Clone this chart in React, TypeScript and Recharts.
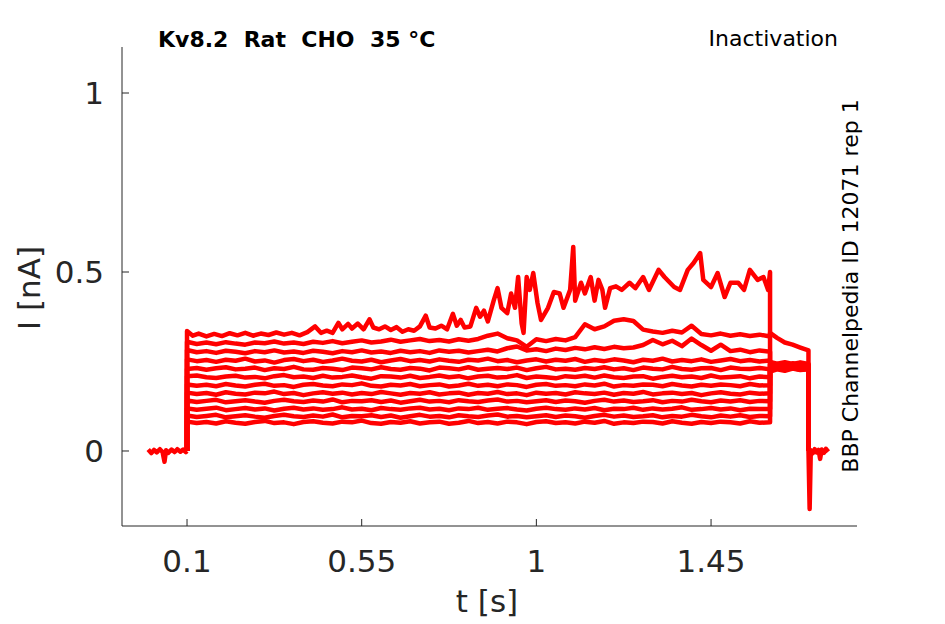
import { LineChart, Line, XAxis, YAxis } from 'recharts';

// Prepulse time grid (s) shared by traces 2-12
const PRE_T = [
  0.1, 0.125, 0.15, 0.175, 0.2, 0.225, 0.25, 0.275, 0.3, 0.325,
  0.35, 0.375, 0.4, 0.425, 0.45, 0.475, 0.5, 0.525, 0.55, 0.575,
  0.6, 0.625, 0.65, 0.675, 0.7, 0.725, 0.75, 0.775, 0.8, 0.825,
  0.85, 0.875, 0.9, 0.925, 0.95, 0.975, 1.0, 1.025, 1.05, 1.075,
  1.1, 1.125, 1.15, 1.175, 1.2, 1.225, 1.25, 1.275, 1.3, 1.325,
  1.35, 1.375, 1.4, 1.425, 1.45, 1.475, 1.5, 1.525, 1.55, 1.575,
  1.602,
];

// Test pulse time grid (s)
const TEST_T = [1.602, 1.62, 1.64, 1.66, 1.68, 1.701];

// Holding current before the protocol and after the test pulse
const HOLD_T = [0.0, 0.008, 0.015, 0.022, 0.03, 0.037, 0.042, 0.046, 0.052, 0.06, 0.068, 0.075, 0.083, 0.09, 0.097, 0.1];
const HOLD_I = [0.004, -0.006, 0.003, -0.004, 0.005, -0.003, -0.03, 0.002, -0.005, 0.004, -0.003, 0.005, -0.002, 0.004, -0.003, 0.0];
const TAIL_T = [1.701, 1.704, 1.707, 1.712, 1.717, 1.722, 1.727, 1.731, 1.735, 1.741, 1.746, 1.752];
const TAIL_I = [0.0, -0.162, 0.002, -0.006, 0.005, -0.004, 0.003, -0.022, 0.004, -0.005, 0.006, -0.002];

// Trace 1 (largest current), own time base
const TOP_T = [
  0.1, 0.115, 0.13, 0.15, 0.17, 0.19, 0.21, 0.23, 0.25, 0.27, 0.29, 0.31, 0.33, 0.35, 0.37,
  0.39, 0.41, 0.43, 0.445, 0.46, 0.475, 0.49, 0.5, 0.515, 0.525, 0.54, 0.555, 0.57, 0.58, 0.595,
  0.61, 0.625, 0.64, 0.655, 0.67, 0.685, 0.7, 0.715, 0.725, 0.74, 0.755, 0.77, 0.785, 0.795, 0.805,
  0.815, 0.83, 0.845, 0.855, 0.865, 0.875, 0.89, 0.9, 0.91, 0.925, 0.935, 0.945, 0.953, 0.962, 0.967,
  0.975, 0.983, 0.992, 1.003, 1.012, 1.03, 1.045, 1.06, 1.07, 1.087, 1.095, 1.1, 1.115, 1.125, 1.14,
  1.15, 1.16, 1.17, 1.177, 1.19, 1.205, 1.22, 1.24, 1.255, 1.275, 1.29, 1.315, 1.33, 1.355, 1.37,
  1.39, 1.405, 1.422, 1.43, 1.45, 1.467, 1.485, 1.5, 1.52, 1.535, 1.55, 1.57, 1.585, 1.597, 1.602,
];
const TOP_I = [
  0.335, 0.322, 0.328, 0.32, 0.327, 0.321, 0.329, 0.323, 0.33, 0.322, 0.328, 0.324, 0.331, 0.325, 0.33,
  0.323, 0.332, 0.348, 0.33, 0.336, 0.33, 0.358, 0.34, 0.355, 0.342, 0.356, 0.34, 0.368, 0.345, 0.34,
  0.348, 0.338, 0.346, 0.333, 0.34, 0.336, 0.348, 0.378, 0.345, 0.342, 0.35, 0.34, 0.383, 0.35, 0.366,
  0.345, 0.348, 0.4, 0.375, 0.392, 0.362, 0.42, 0.455, 0.4, 0.385, 0.44, 0.4, 0.486, 0.357, 0.33,
  0.486, 0.45, 0.497, 0.413, 0.366, 0.4, 0.444, 0.44, 0.4, 0.45, 0.57, 0.42, 0.47, 0.44, 0.486,
  0.42, 0.478, 0.45, 0.4, 0.455, 0.46, 0.45, 0.47, 0.455, 0.486, 0.45, 0.506, 0.486, 0.458, 0.45,
  0.506, 0.525, 0.553, 0.478, 0.458, 0.497, 0.43, 0.47, 0.47, 0.45, 0.506, 0.478, 0.486, 0.45, 0.5,
];
const TOP_TEST = [0.24, 0.236, 0.243, 0.237, 0.241, 0.238];

const TRACE_2 = [
  0.305, 0.299, 0.303, 0.298, 0.304, 0.3, 0.297, 0.303, 0.301, 0.306,
  0.3, 0.303, 0.299, 0.305, 0.302, 0.307, 0.301, 0.305, 0.309, 0.303,
  0.306, 0.311, 0.305, 0.309, 0.313, 0.307, 0.31, 0.306, 0.312, 0.308,
  0.313, 0.322, 0.328, 0.315, 0.309, 0.291, 0.312, 0.307, 0.313, 0.309,
  0.318, 0.354, 0.34, 0.348, 0.364, 0.368, 0.363, 0.339, 0.334, 0.33,
  0.336, 0.331, 0.35, 0.327, 0.323, 0.328, 0.322, 0.326, 0.321, 0.325,
  0.32,
];
const TEST_2 = [0.33, 0.316, 0.303, 0.297, 0.289, 0.281];

const TRACE_3 = [
  0.282, 0.276, 0.279, 0.274, 0.28, 0.277, 0.273, 0.279, 0.276, 0.281,
  0.275, 0.278, 0.274, 0.28, 0.277, 0.273, 0.279, 0.276, 0.281, 0.275,
  0.278, 0.274, 0.28, 0.276, 0.279, 0.274, 0.281, 0.277, 0.28, 0.275,
  0.279, 0.283, 0.278, 0.287, 0.292, 0.281, 0.284, 0.279, 0.286, 0.282,
  0.288, 0.284, 0.29, 0.285, 0.291, 0.287, 0.289, 0.296, 0.31, 0.298,
  0.308, 0.293, 0.314, 0.296, 0.28, 0.297, 0.279, 0.283, 0.276, 0.281,
  0.277,
];
const TEST_3 = [0.249, 0.244, 0.248, 0.243, 0.247, 0.243];

const TRACE_4 = [
  0.256, 0.251, 0.254, 0.249, 0.255, 0.252, 0.258, 0.25, 0.253, 0.247,
  0.254, 0.257, 0.251, 0.255, 0.249, 0.253, 0.258, 0.252, 0.25, 0.255,
  0.248, 0.253, 0.257, 0.251, 0.254, 0.25, 0.256, 0.252, 0.249, 0.255,
  0.253, 0.258, 0.251, 0.254, 0.248, 0.253, 0.256, 0.25, 0.255, 0.252,
  0.257, 0.249, 0.254, 0.251, 0.256, 0.253, 0.248, 0.255, 0.252, 0.258,
  0.25, 0.254, 0.251, 0.256, 0.249, 0.253, 0.257, 0.251, 0.254, 0.25,
  0.253,
];
const TEST_4 = [0.236, 0.243, 0.238, 0.245, 0.239, 0.242];

const TRACE_5 = [
  0.229, 0.232, 0.227, 0.231, 0.234, 0.228, 0.23, 0.233, 0.226, 0.231,
  0.229, 0.235, 0.228, 0.227, 0.232, 0.23, 0.226, 0.233, 0.231, 0.228,
  0.234, 0.229, 0.227, 0.232, 0.23, 0.225, 0.233, 0.231, 0.228, 0.234,
  0.227, 0.23, 0.232, 0.229, 0.233, 0.226, 0.231, 0.235, 0.228, 0.23,
  0.227, 0.232, 0.229, 0.234, 0.228, 0.231, 0.226, 0.233, 0.23, 0.228,
  0.235, 0.229, 0.227, 0.231, 0.232, 0.226, 0.233, 0.23, 0.229, 0.232,
  0.228,
];
const TEST_5 = [0.228, 0.234, 0.23, 0.236, 0.231, 0.233];

const TRACE_6 = [
  0.209, 0.211, 0.206, 0.204, 0.208, 0.21, 0.205, 0.207, 0.203, 0.209,
  0.212, 0.206, 0.208, 0.204, 0.21, 0.205, 0.207, 0.211, 0.206, 0.202,
  0.209, 0.208, 0.205, 0.21, 0.204, 0.207, 0.211, 0.206, 0.209, 0.203,
  0.208, 0.21, 0.205, 0.207, 0.212, 0.204, 0.208, 0.206, 0.203, 0.209,
  0.207, 0.21, 0.205, 0.211, 0.206, 0.204, 0.208, 0.209, 0.202, 0.207,
  0.21, 0.206, 0.208, 0.204, 0.211, 0.205, 0.207, 0.209, 0.203, 0.208,
  0.206,
];
const TEST_6 = [0.224, 0.23, 0.226, 0.232, 0.227, 0.229];

const TRACE_7 = [
  0.186, 0.182, 0.185, 0.181, 0.187, 0.183, 0.18, 0.185, 0.188, 0.182,
  0.184, 0.179, 0.185, 0.187, 0.183, 0.181, 0.186, 0.184, 0.189, 0.182,
  0.18, 0.185, 0.183, 0.187, 0.181, 0.184, 0.186, 0.18, 0.183, 0.188,
  0.182, 0.185, 0.181, 0.186, 0.184, 0.179, 0.185, 0.187, 0.182, 0.184,
  0.181, 0.186, 0.183, 0.188, 0.18, 0.184, 0.182, 0.186, 0.185, 0.181,
  0.187, 0.183, 0.18, 0.185, 0.182, 0.186, 0.184, 0.181, 0.187, 0.183,
  0.184,
];
const TEST_7 = [0.241, 0.236, 0.242, 0.235, 0.24, 0.236];

const TRACE_8 = [
  0.163, 0.159, 0.162, 0.157, 0.164, 0.16, 0.158, 0.163, 0.161, 0.166,
  0.159, 0.162, 0.156, 0.161, 0.164, 0.16, 0.163, 0.158, 0.162, 0.159,
  0.165, 0.161, 0.157, 0.162, 0.16, 0.164, 0.158, 0.161, 0.163, 0.157,
  0.162, 0.16, 0.165, 0.159, 0.161, 0.156, 0.163, 0.16, 0.162, 0.158,
  0.164, 0.161, 0.159, 0.163, 0.157, 0.162, 0.16, 0.165, 0.158, 0.161,
  0.163, 0.159, 0.162, 0.156, 0.161, 0.164, 0.16, 0.158, 0.163, 0.16,
  0.161,
];
const TEST_8 = [0.234, 0.24, 0.233, 0.239, 0.236, 0.238];

const TRACE_9 = [
  0.141, 0.137, 0.14, 0.143, 0.136, 0.139, 0.142, 0.138, 0.135, 0.14,
  0.143, 0.139, 0.137, 0.141, 0.138, 0.144, 0.136, 0.14, 0.139, 0.142,
  0.137, 0.141, 0.135, 0.139, 0.143, 0.138, 0.14, 0.136, 0.142, 0.139,
  0.137, 0.141, 0.144, 0.138, 0.14, 0.136, 0.139, 0.142, 0.137, 0.141,
  0.139, 0.135, 0.14, 0.143, 0.138, 0.141, 0.137, 0.139, 0.142, 0.136,
  0.14, 0.138, 0.143, 0.139, 0.136, 0.141, 0.138, 0.142, 0.137, 0.14,
  0.139,
];
const TEST_9 = [0.238, 0.232, 0.239, 0.234, 0.241, 0.235];

const TRACE_10 = [
  0.119, 0.115, 0.118, 0.121, 0.114, 0.117, 0.12, 0.116, 0.119, 0.113,
  0.118, 0.121, 0.116, 0.119, 0.115, 0.117, 0.122, 0.116, 0.118, 0.114,
  0.12, 0.117, 0.115, 0.119, 0.121, 0.116, 0.118, 0.114, 0.119, 0.117,
  0.121, 0.115, 0.118, 0.12, 0.116, 0.113, 0.118, 0.121, 0.117, 0.115,
  0.119, 0.116, 0.12, 0.114, 0.118, 0.117, 0.121, 0.115, 0.119, 0.116,
  0.118, 0.122, 0.115, 0.117, 0.12, 0.116, 0.119, 0.114, 0.118, 0.117,
  0.117,
];
const TEST_10 = [0.222, 0.228, 0.224, 0.23, 0.226, 0.228];

const TRACE_11 = [
  0.099, 0.095, 0.098, 0.101, 0.094, 0.097, 0.1, 0.096, 0.093, 0.098,
  0.101, 0.097, 0.095, 0.099, 0.096, 0.102, 0.094, 0.098, 0.097, 0.1,
  0.095, 0.099, 0.093, 0.097, 0.101, 0.096, 0.098, 0.094, 0.1, 0.097,
  0.095, 0.099, 0.102, 0.096, 0.098, 0.094, 0.097, 0.1, 0.095, 0.099,
  0.097, 0.093, 0.098, 0.101, 0.096, 0.099, 0.095, 0.097, 0.1, 0.094,
  0.098, 0.096, 0.101, 0.097, 0.094, 0.099, 0.096, 0.1, 0.095, 0.098,
  0.097,
];
const TEST_11 = [0.244, 0.238, 0.245, 0.239, 0.246, 0.24];

const TRACE_12 = [
  0.082, 0.078, 0.081, 0.077, 0.083, 0.079, 0.076, 0.081, 0.084, 0.078,
  0.08, 0.075, 0.081, 0.083, 0.079, 0.077, 0.082, 0.08, 0.085, 0.078,
  0.076, 0.081, 0.079, 0.083, 0.077, 0.08, 0.082, 0.076, 0.079, 0.084,
  0.078, 0.081, 0.077, 0.082, 0.08, 0.075, 0.081, 0.083, 0.078, 0.08,
  0.077, 0.082, 0.079, 0.084, 0.076, 0.08, 0.078, 0.082, 0.081, 0.077,
  0.083, 0.079, 0.076, 0.081, 0.078, 0.082, 0.08, 0.077, 0.083, 0.079,
  0.08,
];
const TEST_12 = [0.229, 0.235, 0.227, 0.233, 0.23, 0.234];

const X_TICKS = [0.1, 0.55, 1, 1.45];
const Y_TICKS = [0, 0.5, 1];

type Point = { t: number; i: number };

function zip(ts: number[], is: number[]): Point[] {
  return ts.map((t, k) => ({ t, i: is[k] }));
}

// one sweep: step up at 0.1 s, prepulse, test pulse, back to holding
function sweep(preT: number[], preI: number[], testI: number[]): Point[] {
  return [
    { t: 0.1, i: 0 },
    ...zip(preT, preI),
    ...zip(TEST_T, testI),
    { t: 1.701, i: 0 },
  ];
}

const sweeps: Point[][] = [
  sweep(PRE_T, TRACE_12, TEST_12),
  sweep(PRE_T, TRACE_11, TEST_11),
  sweep(PRE_T, TRACE_10, TEST_10),
  sweep(PRE_T, TRACE_9, TEST_9),
  sweep(PRE_T, TRACE_8, TEST_8),
  sweep(PRE_T, TRACE_7, TEST_7),
  sweep(PRE_T, TRACE_6, TEST_6),
  sweep(PRE_T, TRACE_5, TEST_5),
  sweep(PRE_T, TRACE_4, TEST_4),
  sweep(PRE_T, TRACE_3, TEST_3),
  sweep(PRE_T, TRACE_2, TEST_2),
  sweep(TOP_T, TOP_I, TOP_TEST),
  zip(HOLD_T, HOLD_I),
  zip(TAIL_T, TAIL_I),
];

const FONT = '"DejaVu Sans", sans-serif';
const AXIS_COLOR = '#262626';

export default function App() {
  return (
    <div style={{ position: 'absolute', left: 0, top: 0, width: 945, height: 624, background: '#fff' }}>
      <LineChart width={945} height={624} margin={{ top: 47, right: 88, bottom: 0, left: 0 }}>
        <XAxis
          dataKey="t"
          type="number"
          domain={[-0.0675, 1.826]}
          allowDataOverflow
          ticks={X_TICKS}
          height={98}
          tickSize={-7}
          tickMargin={31}
          axisLine={{ stroke: AXIS_COLOR }}
          tickLine={{ stroke: AXIS_COLOR }}
          tick={{ fill: AXIS_COLOR, fontSize: 31, fontFamily: FONT }}
        />
        <YAxis
          dataKey="i"
          type="number"
          domain={[-0.2095, 1.1285]}
          allowDataOverflow
          ticks={Y_TICKS}
          width={122}
          tickSize={-7}
          tickMargin={25}
          axisLine={{ stroke: AXIS_COLOR }}
          tickLine={{ stroke: AXIS_COLOR }}
          tick={{ fill: AXIS_COLOR, fontSize: 31, fontFamily: FONT }}
        />
        {sweeps.map((data, k) => (
          <Line
            key={k}
            data={data}
            dataKey="i"
            type="linear"
            stroke="#ff0000"
            strokeWidth={4.5}
            strokeLinejoin="round"
            dot={false}
            activeDot={false}
            isAnimationActive={false}
          />
        ))}
      </LineChart>
      <svg
        width={945}
        height={624}
        style={{ position: 'absolute', left: 0, top: 0, pointerEvents: 'none' }}
        fontFamily={FONT}
      >
        <text x={158} y={47} fontSize={22} fontWeight="bold" fill="#000" style={{ whiteSpace: 'pre' }}>
          {'Kv8.2  Rat  CHO  35 °C'}
        </text>
        <text x={838} y={46} fontSize={22} textAnchor="end" fill="#000">
          Inactivation
        </text>
        <text transform="translate(858,286) rotate(-90)" fontSize={22} textAnchor="middle" fill="#000">
          BBP Channelpedia ID 12071 rep 1
        </text>
        <text transform="translate(40,288) rotate(-90)" fontSize={31} textAnchor="middle" fill={AXIS_COLOR}>
          I [nA]
        </text>
        <text x={487} y={612} fontSize={31} textAnchor="middle" fill={AXIS_COLOR}>
          t [s]
        </text>
      </svg>
    </div>
  );
}
